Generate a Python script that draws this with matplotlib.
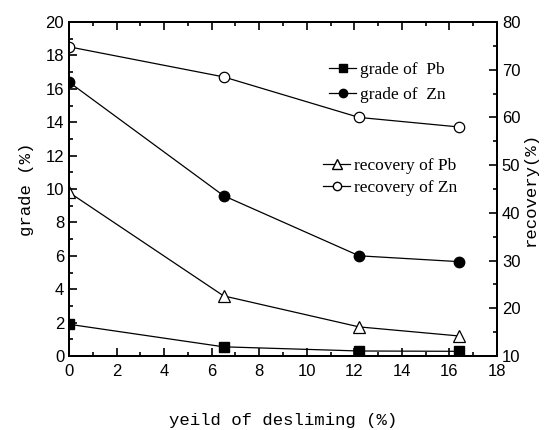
import matplotlib
matplotlib.use("Agg")
import matplotlib.pyplot as plt
from matplotlib.ticker import MultipleLocator
from matplotlib.lines import Line2D
from matplotlib.patches import Rectangle

yield_pct = [0, 6.5, 12.2, 16.4]
grade_pb = [1.9, 0.55, 0.3, 0.28]
grade_zn = [16.4, 9.6, 6.0, 5.65]
recovery_pb = [44.3, 22.6, 16.1, 14.2]
recovery_zn = [74.8, 68.5, 60.0, 58.0]

plt.rcParams['font.family'] = ['Liberation Sans', 'DejaVu Sans']
fig = plt.figure(figsize=(5.49, 4.30), dpi=100)
ax = fig.add_axes([69/549, 1-356/430, (497-69)/549, (356-22)/430])
ax2 = ax.twinx()

lw = 0.9
ms = 7
lines = []
lines += ax.plot(yield_pct, grade_pb, '-', color='black', lw=lw, marker='s', ms=ms, mfc='black', mec='black', zorder=5)
lines += ax.plot(yield_pct, grade_zn, '-', color='black', lw=lw, marker='o', ms=ms+0.5, mfc='black', mec='black', zorder=5)
lines += ax2.plot(yield_pct, recovery_pb, '-', color='black', lw=lw, marker='^', ms=ms+1, mfc='white', mec='black', mew=0.9, zorder=5)
lines += ax2.plot(yield_pct, recovery_zn, '-', color='black', lw=lw, marker='o', ms=ms+0.5, mfc='white', mec='black', mew=0.9, zorder=5)

clip_rect = Rectangle((0, 0), 1, 1, transform=ax.transAxes, facecolor='none', edgecolor='none')
fig.add_artist(clip_rect)
clip_rect.set_visible(False)
for ln in lines:
    ln.set_clip_path(clip_rect)

ax.set_xlim(0, 18)
ax.set_ylim(0, 20)
ax2.set_ylim(10, 80)
ax.xaxis.set_major_locator(MultipleLocator(2))
ax.xaxis.set_minor_locator(MultipleLocator(1))
ax.yaxis.set_major_locator(MultipleLocator(2))
ax.yaxis.set_minor_locator(MultipleLocator(1))
ax2.yaxis.set_major_locator(MultipleLocator(10))
ax2.yaxis.set_minor_locator(MultipleLocator(5))

ax.tick_params(axis='both', which='both', direction='in', labelsize=12, width=1.2)
ax.tick_params(axis='x', which='both', top=True, labeltop=False)
ax.tick_params(axis='x', which='major', pad=6)
ax.tick_params(which='major', length=6)
ax.tick_params(which='minor', length=3)
ax2.tick_params(which='both', direction='in', labelsize=12, width=1.2)
ax2.tick_params(which='major', length=6)
ax2.tick_params(which='minor', length=3)
for a in (ax, ax2):
    for s in a.spines.values():
        s.set_linewidth(1.4)

labfont = dict(family=['Liberation Mono', 'DejaVu Sans Mono'], size=12.5)
ax.set_xlabel('yeild of desliming (%)', labelpad=24, **labfont)
ax.set_ylabel('grade (%)', labelpad=8, **labfont)
ax2.set_ylabel('recovery(%)', labelpad=2, **labfont)

legfont = dict(family=['Liberation Serif', 'DejaVu Serif'], size=12.5)
h1 = [Line2D([], [], color='black', lw=lw, marker='s', ms=6, mfc='black'),
      Line2D([], [], color='black', lw=lw, marker='o', ms=6, mfc='black')]
leg1 = ax.legend(h1, ['grade of  Pb', 'grade of  Zn'], loc='upper left',
                 bbox_to_anchor=((320-69)/428, 1-(53-22)/334), frameon=False,
                 prop=legfont, handlelength=1.6, handletextpad=0.2, labelspacing=0.5, borderpad=0)
h2 = [Line2D([], [], color='black', lw=lw, marker='^', ms=7, mfc='white'),
      Line2D([], [], color='black', lw=lw, marker='o', ms=6, mfc='white')]
leg2 = ax.legend(h2, ['recovery of Pb', 'recovery of Zn'], loc='upper left',
                 bbox_to_anchor=((314-69)/428, 1-(149-22)/334), frameon=False,
                 prop=legfont, handlelength=1.6, handletextpad=0.2, labelspacing=0.35, borderpad=0)
ax.add_artist(leg1)
ax.set_zorder(ax2.get_zorder() + 1)
ax.patch.set_visible(False)

fig.savefig('out.png', dpi=100)
